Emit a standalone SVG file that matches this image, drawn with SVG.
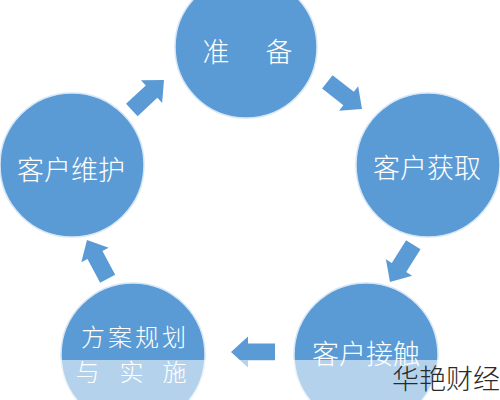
<svg xmlns="http://www.w3.org/2000/svg" xmlns:xlink="http://www.w3.org/1999/xlink" width="500" height="400" viewBox="0 0 500 400">
<style>
.node{fill:#5b9bd5;stroke:#d6e6f6;stroke-width:1.5}
.lbl{fill:#ffffff;font-family:"Noto Sans CJK SC","Noto Sans CJK JP",sans-serif;font-size:27px;font-weight:300;text-anchor:middle;dominant-baseline:central}
.sm{font-size:24px;letter-spacing:3px}
.arr{fill:#5b9bd5}
.wm{fill:#2a2a2a;font-family:"Noto Sans CJK SC",sans-serif;font-size:27px;font-weight:300;text-anchor:end}
</style>
<defs>
<path id="arrow" d="M0,0 L-17,-15.5 L-17,-8.5 L-44,-8.5 L-44,8.5 L-17,8.5 L-17,15.5 Z"/>
</defs>
<rect width="500" height="400" fill="#ffffff"/>
<g id="connectors">
<use xlink:href="#arrow" class="arr" transform="translate(164,80) rotate(-43)"/>
<use xlink:href="#arrow" class="arr" transform="translate(362,109) rotate(38)"/>
<use xlink:href="#arrow" class="arr" transform="translate(390,282) rotate(122)"/>
<use xlink:href="#arrow" class="arr" transform="translate(231,352) rotate(180)"/>
<use xlink:href="#arrow" class="arr" transform="translate(87,240) rotate(-118)"/>
</g>
<g id="node-prep">
<circle class="node" cx="246" cy="47" r="71"/>
<text class="lbl" x="216" y="50">准</text>
<text class="lbl" x="279" y="50">备</text>
</g>
<g id="node-acquire">
<circle class="node" cx="428" cy="165" r="72"/>
<text class="lbl" x="427" y="166">客户获取</text>
</g>
<g id="node-contact">
<circle class="node" cx="366" cy="355" r="72"/>
<text class="lbl" x="366" y="352">客户接触</text>
</g>
<g id="node-plan">
<circle class="node" cx="133" cy="355" r="72"/>
<text class="lbl sm" x="135" y="335">方案规划</text>
<text class="lbl sm" x="89" y="370">与</text>
<text class="lbl sm" x="133" y="370">实</text>
<text class="lbl sm" x="176" y="370">施</text>
</g>
<g id="node-maintain">
<circle class="node" cx="72" cy="165" r="72"/>
<text class="lbl" x="71" y="168">客户维护</text>
</g>
<rect x="0" y="360" width="500" height="40" fill="#ffffff" opacity="0.55"/>
<text class="wm" x="500" y="389">华艳财经</text>
</svg>
